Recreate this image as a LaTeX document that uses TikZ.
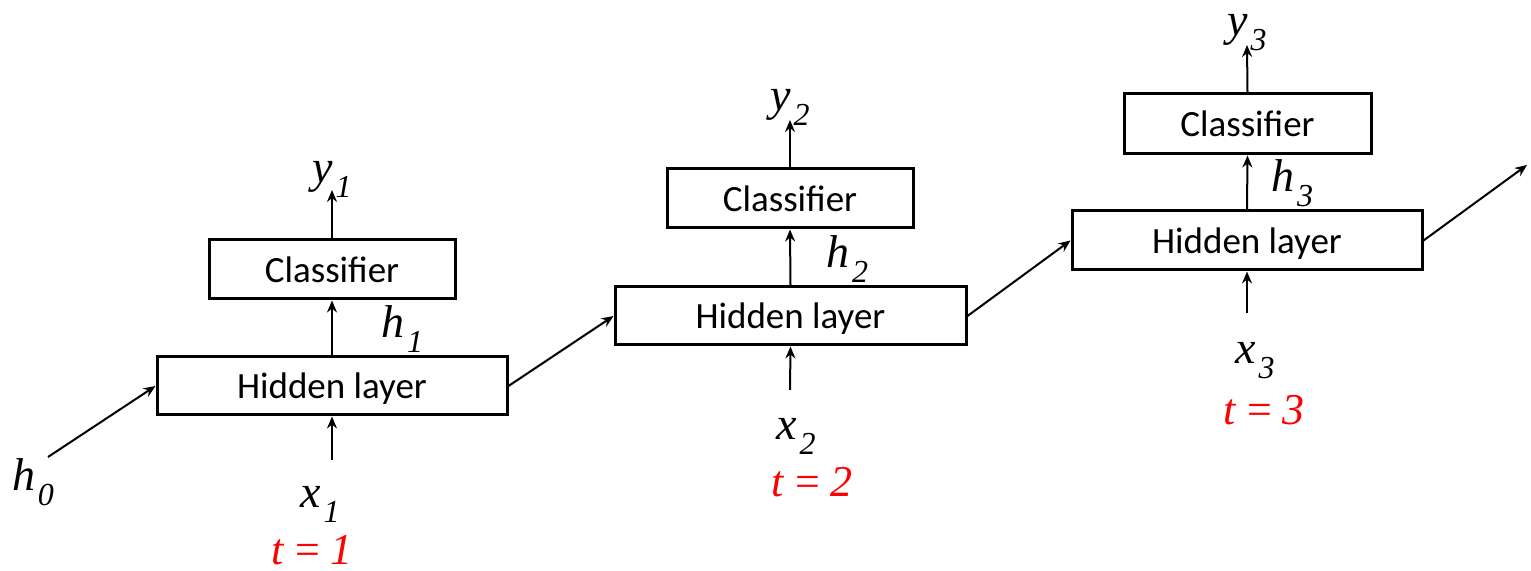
\documentclass[tikz,border=0pt]{standalone}
\usepackage{fontspec}
\setmainfont{Liberation Serif}
\newfontfamily\cali{Carlito}
\usetikzlibrary{arrows.meta}
\newcommand{\vlab}[2]{{\fontsize{23}{23}\selectfont\itshape #1\hspace{1.5pt}\raisebox{-7.5pt}{\fontsize{16}{16}\selectfont #2}}}
\newcommand{\tlab}[1]{{\fontsize{22}{22}\selectfont\color{red}\itshape t\/ \upshape= \itshape #1}}
\tikzset{
  layerbox/.style={draw, line width=1.5pt, inner sep=0pt, text depth=0pt, font=\cali\fontsize{18.5}{18.5}\selectfont},
  conn/.style={line width=1pt, -{Stealth[length=6pt,width=5pt,inset=2pt]}},
  lab/.style={inner sep=0pt, anchor=base},
  tlabst/.style={inner sep=0pt, anchor=base, text depth=0pt}
}
\begin{document}
\begin{tikzpicture}[x=0.5pt,y=-0.5pt]
\useasboundingbox (0,0) rectangle (1531,571);
% boxes
\node[layerbox, minimum width=175pt, minimum height=29pt] (hid1) at (332,386) {Hidden layer};
\node[layerbox, minimum width=123pt, minimum height=29.5pt] (cls1) at (332,269.5) {Classifier};
\node[layerbox, minimum width=175.5pt, minimum height=29pt] (hid2) at (790.5,316) {Hidden layer};
\node[layerbox, minimum width=123pt, minimum height=29.5pt] (cls2) at (790,198.5) {Classifier};
\node[layerbox, minimum width=175pt, minimum height=29.5pt] (hid3) at (1247,240.5) {Hidden layer};
\node[layerbox, minimum width=123.5pt, minimum height=30pt] (cls3) at (1247.5,124) {Classifier};
% endpoints
\coordinate (y1e) at (332,190);
\coordinate (y2e) at (790,120);
\coordinate (y3e) at (1247,45);
\coordinate (x1s) at (332,460);
\coordinate (x2s) at (790,390);
\coordinate (x3s) at (1247,313);
\coordinate (h0s) at (48,457);
\coordinate (oute) at (1527,165);
% labels
\node[lab] (ly1) at (332,183) {\vlab{y}{1}};
\node[lab] (ly2) at (790,111) {\vlab{y}{2}};
\node[lab] (ly3) at (1247,36) {\vlab{y}{3}};
\node[lab] (lh1) at (402,338) {\vlab{h}{1}};
\node[lab] (lh2) at (847,268) {\vlab{h}{2}};
\node[lab] (lh3) at (1292,192) {\vlab{h}{3}};
\node[lab] (lh0) at (33,490) {\vlab{h}{0}};
\node[lab] (lx1) at (320,507) {\vlab{x}{1}};
\node[lab] (lx2) at (796,440) {\vlab{x}{2}};
\node[lab] (lx3) at (1255,364) {\vlab{x}{3}};
\node[tlabst] (t1) at (312,564) {\tlab{1}};
\node[tlabst] (t2) at (812,496) {\tlab{2}};
\node[tlabst] (t3) at (1264,424) {\tlab{3}};
% connectors
\draw[conn] (hid1.north) -- (cls1.south);
\draw[conn] (hid2.north) -- (cls2.south);
\draw[conn] (hid3.north) -- (cls3.south);
\draw[conn] (cls1.north) -- (y1e);
\draw[conn] (cls2.north) -- (y2e);
\draw[conn] (cls3.north) -- (y3e);
\draw[conn] (x1s) -- (hid1.south);
\draw[conn] (x2s) -- (hid2.south);
\draw[conn] (x3s) -- (hid3.south);
\draw[conn] (h0s) -- (hid1.west);
\draw[conn] (hid1.east) -- (hid2.west);
\draw[conn] (hid2.east) -- (hid3.west);
\draw[conn] (hid3.east) -- (oute);
\end{tikzpicture}
\end{document}
